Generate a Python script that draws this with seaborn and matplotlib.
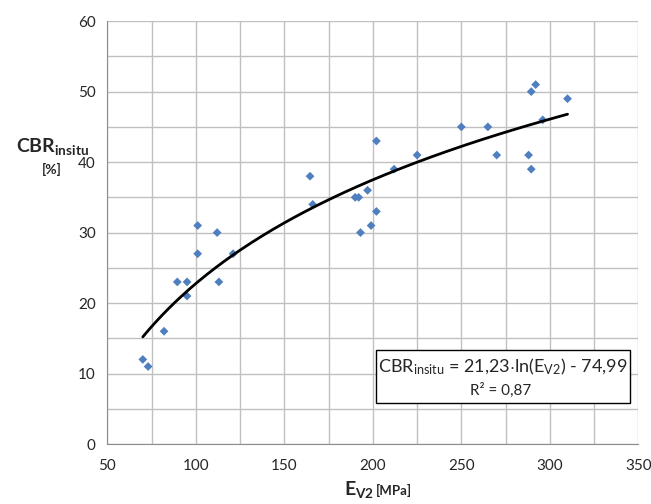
import numpy as np
import pandas as pd
import matplotlib
matplotlib.use('Agg')
import matplotlib.pyplot as plt
from matplotlib.ticker import MultipleLocator
from matplotlib.patches import Rectangle
import seaborn as sns

# data
ev2 = [70, 73, 82, 89.5, 95, 95, 101, 101, 112, 113, 121,
       164.5, 166, 190, 192, 193, 197, 199, 202, 202, 212, 225,
       250, 265, 270, 288, 289.5, 289.5, 292, 296, 310]
cbr = [12, 11, 16, 23, 23, 21, 27, 31, 30, 23, 27,
       38, 34, 35, 35, 30, 36, 31, 33, 43, 39, 41,
       45, 45, 41, 41, 39, 50, 51, 46, 49]

# logarithmic trendline as printed on the chart
coef_a = 21.23
coef_b = -74.99
fit_range = (70, 310)

df = pd.DataFrame({'ev2': ev2, 'cbr': cbr})
xf = np.linspace(fit_range[0], fit_range[1], 200)
fit = pd.DataFrame({'ev2': xf, 'cbr': coef_a * np.log(xf) + coef_b})

sns.set_style('white')
plt.rcParams['font.family'] = ['Lato', 'DejaVu Sans']
plt.rcParams['mathtext.fontset'] = 'custom'
plt.rcParams['mathtext.rm'] = 'Lato'
plt.rcParams['mathtext.it'] = 'Lato'
plt.rcParams['mathtext.bf'] = 'Lato:bold'

fig = plt.figure(figsize=(6.51, 5.04), dpi=100)
ax = fig.add_axes([0.165, 0.119, 0.8155, 0.839])

sns.scatterplot(data=df, x='ev2', y='cbr', marker='D', s=20, color='#4f7fbf',
                edgecolor='none', ax=ax, zorder=3)
sns.lineplot(data=fit, x='ev2', y='cbr', color='black', linewidth=2, ax=ax, zorder=4)

ax.set_xlim(50, 350)
ax.set_ylim(0, 60)
ax.xaxis.set_major_locator(MultipleLocator(50))
ax.xaxis.set_minor_locator(MultipleLocator(25))
ax.yaxis.set_major_locator(MultipleLocator(10))
ax.yaxis.set_minor_locator(MultipleLocator(5))
ax.grid(True, which='both', color='#c0c0c0', linewidth=1)
ax.set_axisbelow(True)
for s in ['top', 'right']:
    ax.spines[s].set_visible(False)
for s in ['left', 'bottom']:
    ax.spines[s].set_color('#8c8c8c')
ax.tick_params(which='major', length=5, color='#8c8c8c', direction='out',
               labelsize=11, labelcolor='#262626')
ax.tick_params(which='minor', length=0)
ax.tick_params(axis='x', pad=6)

ax.set_xlabel('')
ax.set_ylabel('')
fig.text(0.08, 0.71, r'$\mathbf{CBR_{insitu}}$', fontsize=14, ha='center', va='center')
fig.text(0.08, 0.663, '[%]', fontsize=10, fontweight='bold', ha='center', va='center')
fig.text(0.575, 0.018, r'$\mathbf{E_{V2}}$', fontsize=14, ha='right', va='baseline')
fig.text(0.578, 0.018, '[MPa]', fontsize=9.5, fontweight='bold', ha='left', va='baseline')

# equation box
ax.add_patch(Rectangle((202, 5.8), 143.5, 7.5, facecolor='white', edgecolor='black',
                       linewidth=1, zorder=5))
ax.text(273.5, 10.9, r'CBR$_{\mathrm{insitu}}$ = 21,23$\cdot$ln(E$_{\mathrm{V2}}$) - 74,99',
        fontsize=13, ha='center', va='center', zorder=6)
ax.text(272, 7.6, 'R² = 0,87', fontsize=11, ha='center', va='center', zorder=6)

fig.savefig('out.png', dpi=100)
